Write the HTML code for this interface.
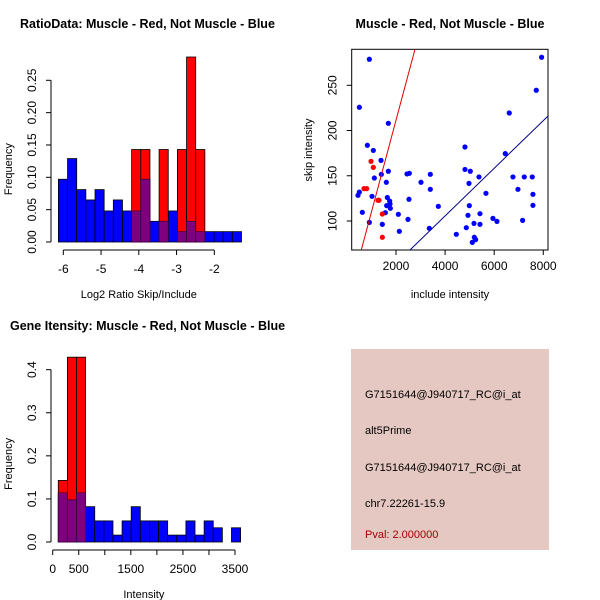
<!DOCTYPE html>
<html><head><meta charset="utf-8"><style>
html,body{margin:0;padding:0;background:#fff;}
svg{display:block;font-family:"Liberation Sans",sans-serif;}
</style></head><body>
<svg id="c" width="600" height="600" viewBox="0 0 600 600">
<rect width="600" height="600" fill="#fff"/>
<text x="20" y="28" font-size="12.5" font-weight="bold">RatioData: Muscle - Red, Not Muscle - Blue</text>
<text x="450" y="28" font-size="12.5" font-weight="bold" text-anchor="middle">Muscle - Red, Not Muscle - Blue</text>
<text x="10" y="330" font-size="12.5" font-weight="bold">Gene Itensity: Muscle - Red, Not Muscle - Blue</text>
<g id="p1"></g>
<g id="p2"></g>
<g id="p3"></g>
<g>
<rect x="351" y="349" width="198" height="201" fill="#e6c8c2"/>
<g font-size="11" fill="#000">
<text x="365" y="398">G7151644@J940717_RC@i_at</text>
<text x="365" y="434">alt5Prime</text>
<text x="365" y="471">G7151644@J940717_RC@i_at</text>
<text x="365" y="507">chr7.22261-15.9</text>
<text x="365" y="538" fill="#a00000">Pval: 2.000000</text>
</g></g>
</svg>
<script>
// ---- Ratio histogram data
const ratioStart=-6.13, ratioWidth=0.2425;
const ratioBlue=[0.097,0.129,0.081,0.065,0.081,0.048,0.065,0.048,0.048,0.097,0.032,0.032,0.048,0.016,0.032,0.016,0.016,0.016,0.016,0.016];
const ratioRed=[0,0,0,0,0,0,0,0,0.143,0.143,0,0.143,0,0.143,0.286,0.143,0,0,0,0];
const ratioXTicks=[-6,-5,-4,-3,-2];
const ratioYTicks=["0.00","0.05","0.10","0.15","0.20","0.25"];
// ---- Intensity histogram data
const intStart=107, intWidth=175;
const intBlue=[0.114,0.098,0.114,0.082,0.049,0.049,0.016,0.049,0.082,0.049,0.049,0.049,0.016,0.016,0.049,0.016,0.049,0.033,0,0.033];
const intRed=[0.143,0.429,0.429,0,0,0,0,0,0,0,0,0,0,0,0,0,0,0,0,0];
const intXTicks=[0,500,1000,1500,2000,2500,3000,3500];
const intXLabels=["0","500","","1500","","2500","","3500"];
const intYTicks=["0.0","0.1","0.2","0.3","0.4"];
// ---- Scatter data
const blueX=[914,507,7932,7715,6615,1688,6452,833,1077,4810,1389,4810,5027,1403,1688,2448,2543,3398,3018,1606,1118,5380,6765,7226,7552,3398,4973,6968,507,452,1023,5665,7579,1647,1742,1756,1620,1769,2529,4987,7579,3724,629,1566,2095,5421,4932,914,1443,2489,5177,5421,5950,6113,7158,3357,2136,4864,4457,5190,5244,5109];
const blueY=[278.8,225.7,281,244.5,219.4,208,174.5,183.7,178,181.8,167,157,155,151.6,155,152,152.7,151.6,142.8,142.8,147.5,148.7,148.7,148.7,148.7,135,141.6,135,132,128.4,127.3,130.6,129.5,126,122,118.8,117,114,124,117,117.3,116.2,109.6,109.2,107.4,108.1,106.3,98.5,96.3,101.8,97.4,96.3,102.9,99.6,100.7,91.9,88.6,92.6,85.3,82,79.4,76.4];
const redX=[982,1077,697,806,1267,1308,1443,1443];
const redY=[166,159.3,135.8,135.8,122.9,122.9,107.7,82];
const redFit=[8.6,0.1014];
const blueFit=[0.3,0.02633];
const scXTicks=[2000,4000,6000,8000];
const scYTicks=[100,150,200,250];

const NS="http://www.w3.org/2000/svg";
function mk(parent,tag,attrs){const e=document.createElementNS(NS,tag);for(const k in attrs)e.setAttribute(k,attrs[k]);parent.appendChild(e);return e;}
function txt(parent,x,y,s,attrs){const t=mk(parent,'text',Object.assign({x:x,y:y,'font-size':12},attrs||{}));t.textContent=s;return t;}

function hist(g,start,width,blue,red,xs,ys,xTicks,xLabels,yTicks,axisY,axisX,xlab,xlabY){
  const n=blue.length;
  for(let i=0;i<n;i++){
    const x0=xs(start+i*width),x1=xs(start+(i+1)*width);
    if(blue[i]>0){const r=mk(g,'rect',{x:x0,y:ys(blue[i]),width:x1-x0,height:ys(0)-ys(blue[i]),fill:'#0000ff',stroke:'#000','stroke-width':0.8});
      
      }
  }
  for(let i=0;i<n;i++){
    const x0=xs(start+i*width),x1=xs(start+(i+1)*width);
    if(red[i]>0){const r=mk(g,'rect',{x:x0,y:ys(red[i]),width:x1-x0,height:ys(0)-ys(red[i]),fill:'#ff0000',stroke:'#000','stroke-width':0.8});
      
      
      const m=Math.min(red[i],blue[i]);
      if(m>0){const p=mk(g,'rect',{x:x0,y:ys(m),width:x1-x0,height:ys(0)-ys(m),fill:'#7f007f',stroke:'#400040','stroke-width':0.8});
        
        }
    }
  }
  const ax=mk(g,'g',{});
  
  
  mk(ax,'line',{x1:xs(xTicks[0]),x2:xs(xTicks[xTicks.length-1]),y1:axisY,y2:axisY,stroke:'#000'});
  xTicks.forEach((v,i)=>{mk(ax,'line',{x1:xs(v),x2:xs(v),y1:axisY,y2:axisY+5,stroke:'#000'});
    const l=xLabels?xLabels[i]:String(v);
    if(l)txt(ax,xs(v),axisY+23,l,{'text-anchor':'middle'});});
  const ay=mk(g,'g',{});
  
  
  mk(ay,'line',{x1:axisX,x2:axisX,y1:ys(0),y2:ys(+yTicks[yTicks.length-1]),stroke:'#000'});
  yTicks.forEach(s=>{const y=ys(+s);mk(ay,'line',{x1:axisX,x2:axisX-5,y1:y,y2:y,stroke:'#000'});
    txt(ay,axisX-15,y,s,{'text-anchor':'middle',transform:`rotate(-90 ${axisX-15} ${y})`});});
  const yc=ys(0)-(ys(0)-ys(+yTicks[yTicks.length-1]))/2+8;
  const yl=txt(g,12,yc,'Frequency',{'text-anchor':'middle','font-size':11,transform:`rotate(-90 12 ${yc})`});
  
  
  const xl=txt(g,(xs(xTicks[0])+xs(xTicks[xTicks.length-1]))/2,xlabY,xlab,{'text-anchor':'middle','font-size':11});
  
  
}
(function(){
  const g=document.getElementById('p1');
  const xs=v=>63.3+(v+6)*37.75, ys=v=>242-v*646.8;
  hist(g,ratioStart,ratioWidth,ratioBlue,ratioRed,xs,ys,ratioXTicks,null,ratioYTicks,250,51,'Log2 Ratio Skip/Include',298);
})();
(function(){
  const g=document.getElementById('p3');
  const xs=v=>52.7+v*0.05209, ys=v=>542-v*430.8;
  hist(g,intStart,intWidth,intBlue,intRed,xs,ys,intXTicks,intXLabels,intYTicks,550,51,'Intensity',598);
})();
(function(){
  const g=document.getElementById('p2');
  const xs=v=>396+(v-2000)*0.024545, ys=v=>221-(v-100)*0.9047;
  const L=351.7,R=548,T=49.3,B=250;
  const cp=mk(g,'clipPath',{id:'scclip'});mk(cp,'rect',{x:L,y:T,width:R-L,height:B-T});
  const box=mk(g,'rect',{x:L,y:T,width:R-L,height:B-T,fill:'none',stroke:'#000'});
  
  
  blueX.forEach((x,i)=>{const c=mk(g,'circle',{cx:xs(x),cy:ys(blueY[i]),r:2.6,fill:'#0000ff'});
    
    });
  redX.forEach((x,i)=>{const c=mk(g,'circle',{cx:xs(x),cy:ys(redY[i]),r:2.6,fill:'#ff0000'});
    
    });
  const lx0=0,lx1=9000;
  const rl=mk(g,'line',{x1:xs(lx0),y1:ys(redFit[0]+redFit[1]*lx0),x2:xs(lx1),y2:ys(redFit[0]+redFit[1]*lx1),stroke:'#e00000','stroke-width':1,'clip-path':'url(#scclip)'});
  
  
  const bl=mk(g,'line',{x1:xs(lx0),y1:ys(blueFit[0]+blueFit[1]*lx0),x2:xs(lx1),y2:ys(blueFit[0]+blueFit[1]*lx1),stroke:'#000080','stroke-width':1,'clip-path':'url(#scclip)'});
  
  
  const ax=mk(g,'g',{});
  
  
  scXTicks.forEach(v=>{mk(ax,'line',{x1:xs(v),x2:xs(v),y1:B,y2:B+5,stroke:'#000'});txt(ax,xs(v),B+20,String(v),{'text-anchor':'middle'});});
  const ay=mk(g,'g',{});
  
  
  scYTicks.forEach(v=>{const y=ys(v);mk(ay,'line',{x1:L,x2:L-5,y1:y,y2:y,stroke:'#000'});
    txt(ay,L-15,y,String(v),{'text-anchor':'middle',transform:`rotate(-90 ${L-15} ${y})`});});
  const xl=txt(g,450,298,'include intensity',{'text-anchor':'middle','font-size':11});
  
  
  const yl=txt(g,312,150,'skip intensity',{'text-anchor':'middle','font-size':11,transform:'rotate(-90 312 150)'});
  
  
})();
</script>
</body></html>
